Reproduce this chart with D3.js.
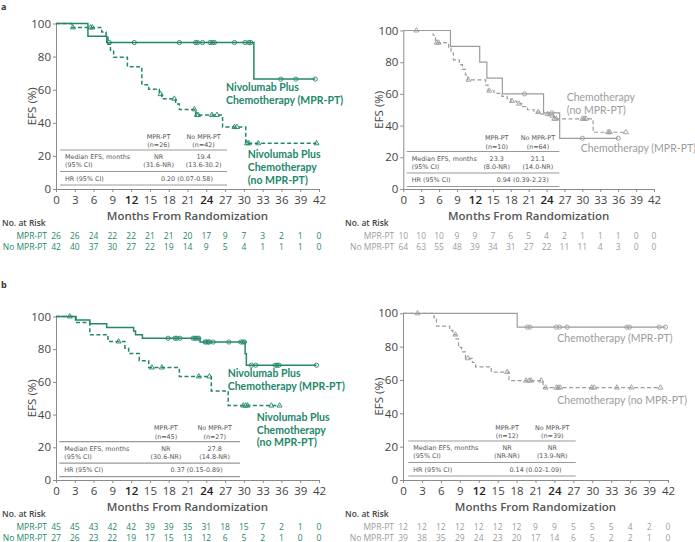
<!DOCTYPE html>
<html><head><meta charset="utf-8">
<script src="https://cdn.jsdelivr.net/npm/d3@7"></script>
<style>
body{margin:0;background:#fff;}
svg text{font-family:"Open Sans",Lato,sans-serif;}
</style></head><body>
<svg id="chart" width="695" height="542"></svg>
<script>
// ---- data ----
var monthTicks = [0,3,6,9,12,15,18,21,24,27,30,33,36,39,42];
var efsTicks = [0,20,40,60,80,100];

// a: nivolumab + chemotherapy
var aNivoMprSteps = [[0,100],[5.1,92.3],[8.1,88.5],[31.6,66.4]];
var aNivoMprCensor = [8.5,12.5,19.7,22.3,22.6,23.4,24.6,25.0,25.3,28.5,30.2,30.8,31.1,35.9,38.3,41.4];
var aNivoNoSteps = [[0,100],[2.5,97.6],[7.3,94.9],[8.0,91.7],[8.3,87.5],[8.7,83.8],[9.2,79.6],[11.4,73.8],[13.7,63.0],[14.8,60.3],[16.5,57.3],[16.9,54.5],[19.1,51.3],[19.7,48.1],[22.3,44.7],[26.6,37.4],[30.3,27.6]];
var aNivoNoCensor = [2.7,5.5,5.8,16.7,18.9,22.1,22.5,22.7,24.9,25.7,28.5,28.9,30.5,30.8,32.3,41.6];
// a: chemotherapy
var aChemoMprSteps = [[0,100],[7.9,90],[12.8,80],[14.0,70],[16.6,60],[23.5,48],[26.2,32]];
var aChemoMprCensor = [20.3,24.9,30.0,36.0];
var aChemoNoSteps = [[0,100],[5.0,97.0],[5.4,92.3],[7.6,89.0],[8.0,85.8],[8.4,81.5],[9.4,78.5],[9.9,75.5],[10.4,72.0],[10.8,68.9],[13.8,65.5],[14.2,62.0],[15.2,60.3],[16.5,58.5],[17.4,57.0],[18.0,55.5],[19.0,53.8],[19.9,52.0],[20.8,50.0],[21.9,48.5],[23.0,47.2],[24.4,46.2],[25.2,44.3],[31.8,35.8]];
var aChemoNoCensor = [2.2,5.6,5.9,10.9,14.4,18.2,19.4,22.6,24.2,25.0,25.3,25.6,30.0,30.3,30.6,34.3,34.6,37.3];
// b: nivolumab + chemotherapy
var bNivoMprSteps = [[0,100],[3.2,97.8],[5.4,95.6],[8.1,93.3],[12.4,91.1],[12.7,88.9],[13.8,86.7],[23.0,84.4],[30.2,77.2],[30.4,70.2]];
var bNivoMprCensor = [17.9,19.0,19.3,19.8,21.9,22.2,22.5,22.8,23.8,24.0,24.3,24.5,25.1,27.6,29.5,29.8,30.1,31.2,31.9,35.0,35.3,35.6,41.6];
var bNivoNoSteps = [[0,100],[3.1,96.3],[5.4,88.9],[8.3,84.7],[11.0,80.8],[11.6,77.3],[13.3,73.0],[14.8,68.8],[19.7,63.3],[24.8,54.5],[27.5,45.5]];
var bNivoNoCensor = [2.2,10.0,15.3,16.9,22.8,24.5,29.9,30.3,30.6,34.4,35.7];
// b: chemotherapy
var bChemoMprSteps = [[0,100],[18.1,91.7]];
var bChemoMprCensor = [19.7,20.1,24.3,24.8,26.0,35.5,35.9,40.6,41.6];
var bChemoNoSteps = [[0,100],[4.9,97.4],[5.3,92.3],[7.4,89.7],[7.9,87.2],[8.4,84.6],[8.8,79.5],[9.3,76.9],[9.9,73.0],[11.0,70.5],[11.5,67.9],[14.0,64.7],[16.8,59.6],[22.2,55.4]];
var bChemoNoCensor = [2.3,8.3,10.3,16.5,19.5,20.0,20.3,21.9,22.6,24.3,24.6,24.9,29.9,30.3,33.9,36.2,40.8];

// numbers at risk
var aNivoMprRisk = [26,26,24,22,22,21,21,20,17,9,7,3,2,1,0];
var aNivoNoRisk = [42,40,37,30,27,22,19,14,9,5,4,1,1,1,0];
var aChemoMprRisk = [10,10,10,9,9,7,6,5,4,2,1,1,1,0,0];
var aChemoNoRisk = [64,63,55,48,39,34,31,27,22,11,11,4,3,0,0];
var bNivoMprRisk = [45,45,43,42,42,39,39,35,31,18,15,7,2,1,0];
var bNivoNoRisk = [27,26,23,22,19,17,15,13,12,6,5,2,1,0,0];
var bChemoMprRisk = [12,12,12,12,12,12,12,9,9,5,5,5,4,2,0];
var bChemoNoRisk = [39,38,35,29,24,23,20,17,14,6,5,2,2,1,0];

// inset tables: n, n, median, median, CI, CI, HR
var aNivoTable = ["(n=26)","(n=42)","NR","19.4","(31.6-NR)","(13.6-30.2)","0.20 (0.07-0.58)"];
var aChemoTable = ["(n=10)","(n=64)","23.3","21.1","(8.0-NR)","(14.0-NR)","0.94 (0.39-2.23)"];
var bNivoTable = ["(n=45)","(n=27)","NR","27.8","(30.6-NR)","(14.8-NR)","0.37 (0.15-0.89)"];
var bChemoTable = ["(n=12)","(n=39)","NR","NR","(NR-NR)","(13.9-NR)","0.14 (0.02-1.09)"];

var nivoMprLabel = ["Nivolumab Plus","Chemotherapy (MPR-PT)"];
var nivoNoLabel = ["Nivolumab Plus","Chemotherapy","(no MPR-PT)"];
var chemoNoLabelA = ["Chemotherapy","(no MPR-PT)"];
var chemoMprLabel = ["Chemotherapy (MPR-PT)"];
var chemoNoLabelB = ["Chemotherapy (no MPR-PT)"];

var GREEN = "#23876b", GRAY = "#9c9c9c", AX = "#8a8a8a", TXT = "#444";

var panels = [
  {tag:"a", tagY:10, x0:56, x1:319, yTop:23.5, yBot:189, color:GREEN, bold:true,
   curves:[{steps:aNivoMprSteps,end:41.4,censor:aNivoMprCensor,dash:false},
           {steps:aNivoNoSteps,end:41.6,censor:aNivoNoCensor,dash:true}],
   table:{x1:60,x2:227,top:150,cells:aNivoTable},
   labels:[{x:226,y:86.7,lines:nivoMprLabel},{x:247.7,y:154,lines:nivoNoLabel}],
   risk:[aNivoMprRisk,aNivoNoRisk], riskX:2},
  {x0:403.3, x1:654, yTop:30.5, yBot:189, color:GRAY, bold:false,
   curves:[{steps:aChemoMprSteps,end:36.0,censor:aChemoMprCensor,dash:false},
           {steps:aChemoNoSteps,end:37.3,censor:aChemoNoCensor,dash:true}],
   table:{x1:406.7,x2:559.3,top:151.5,cells:aChemoTable},
   labels:[{x:566.7,y:96.7,lines:chemoNoLabelA},{x:580.7,y:148.3,lines:chemoMprLabel}],
   risk:[aChemoMprRisk,aChemoNoRisk], riskX:345},
  {tag:"b", tagY:288, x0:56, x1:319, yTop:316.5, yBot:480, color:GREEN, bold:true,
   curves:[{steps:bNivoMprSteps,end:41.6,censor:bNivoMprCensor,dash:false},
           {steps:bNivoNoSteps,end:35.7,censor:bNivoNoCensor,dash:true}],
   table:{x1:59.3,x2:240,top:441.7,cells:bNivoTable},
   labels:[{x:227.7,y:373.3,lines:nivoMprLabel},{x:256.7,y:416.7,lines:nivoNoLabel}],
   risk:[bNivoMprRisk,bNivoNoRisk], riskX:2},
  {x0:403, x1:668, yTop:313.3, yBot:480, color:GRAY, bold:false,
   curves:[{steps:bChemoMprSteps,end:41.6,censor:bChemoMprCensor,dash:false},
           {steps:bChemoNoSteps,end:40.8,censor:bChemoNoCensor,dash:true}],
   table:{x1:408.3,x2:575.7,top:441,cells:bChemoTable},
   labels:[{x:557.3,y:338.3,lines:chemoMprLabel},{x:557.3,y:400,lines:chemoNoLabelB}],
   risk:[bChemoMprRisk,bChemoNoRisk], riskX:345}
];

var svg = d3.select("#chart");

function survAt(steps, t) {
  var v = steps[0][1];
  steps.forEach(function (s) { if (s[0] <= t) v = s[1]; });
  return v;
}

panels.forEach(drawPanel);

function drawPanel(p) {
  var g = svg.append("g");
  var x = d3.scaleLinear().domain([0,42]).range([p.x0, p.x1]);
  var y = d3.scaleLinear().domain([0,100]).range([p.yBot, p.yTop]);

  if (p.tag) g.append("text").attr("x",1).attr("y",p.tagY).text(p.tag)
      .style("font-size","9px").style("font-weight","bold").attr("fill","#333");

  // axes
  var xa = g.append("g").attr("transform","translate(0,"+p.yBot+")")
    .call(d3.axisBottom(x).tickValues(monthTicks).tickSizeInner(3).tickSizeOuter(0).tickPadding(4));
  var ya = g.append("g").attr("transform","translate("+p.x0+",0)")
    .call(d3.axisLeft(y).tickValues(efsTicks).tickSizeInner(3).tickSizeOuter(0).tickPadding(2));
  [xa, ya].forEach(function (a) {
    a.select(".domain").attr("stroke",AX).attr("stroke-width",1);
    a.selectAll(".tick line").attr("stroke",AX);
    a.selectAll(".tick text").attr("fill",TXT).style("font-size","11.5px").style("font-family","Open Sans");
  });
  xa.selectAll(".tick text").filter(function (d) { return d == 12 || d == 24; })
    .style("font-weight","600").attr("fill","#222");

  g.append("text").attr("transform","translate("+(p.x0-25)+","+((p.yTop+p.yBot)/2)+") rotate(-90)")
    .attr("text-anchor","middle").attr("dominant-baseline","central")
    .style("font-size","11.5px").attr("fill",TXT).text("EFS (%)");
  g.append("text").attr("x",(p.x0+p.x1)/2).attr("y",p.yBot+26)
    .attr("text-anchor","middle").attr("dominant-baseline","central")
    .style("font-size","11.5px").style("font-weight","600").attr("fill","#555")
    .text("Months From Randomization");

  // inset table
  var t = p.table, w = t.x2 - t.x1;
  var tg = g.append("g").attr("fill","#555").style("font-size","6.4px").style("font-family","DejaVu Sans");
  [t.top, t.top+21.5, t.top+35].forEach(function (ly) {
    tg.append("line").attr("x1",t.x1).attr("x2",t.x2).attr("y1",ly).attr("y2",ly)
      .attr("stroke","#999").attr("stroke-width",1.2);
  });
  var c1 = t.x1 + w*0.59, c2 = t.x1 + w*0.86;
  function cell(tx, ty, s, anchor) {
    tg.append("text").attr("x",tx).attr("y",ty).attr("text-anchor",anchor||"middle")
      .attr("dominant-baseline","central").style("font-family","DejaVu Sans").text(s);
  }
  cell(c1, t.top-13.3, "MPR-PT"); cell(c2, t.top-13.3, "No MPR-PT");
  cell(c1, t.top-5, t.cells[0]); cell(c2, t.top-5, t.cells[1]);
  cell(t.x1+5, t.top+7, "Median EFS, months", "start");
  cell(t.x1+5, t.top+15.2, "(95% CI)", "start");
  cell(c1, t.top+7, t.cells[2]); cell(c2, t.top+7, t.cells[3]);
  cell(c1, t.top+15.2, t.cells[4]); cell(c2, t.top+15.2, t.cells[5]);
  cell(t.x1+5, t.top+28.6, "HR (95% CI)", "start");
  cell(t.x1 + w*0.76, t.top+28.6, t.cells[6]);

  // curves
  var line = d3.line().x(function (d) { return x(d[0]); }).y(function (d) { return y(d[1]); })
    .curve(d3.curveStepAfter);
  p.curves.forEach(function (c) {
    var pts = c.steps.concat([[c.end, c.steps[c.steps.length-1][1]]]);
    g.append("path").datum(pts).attr("d",line).attr("fill","none")
      .attr("stroke",p.color).attr("stroke-width",p.bold ? 1.5 : 1.2)
      .attr("stroke-dasharray",c.dash ? "4,2.5" : null);
    var sym = d3.symbol().type(c.dash ? d3.symbolTriangle : d3.symbolCircle).size(c.dash ? 11 : 14);
    g.selectAll(null).data(c.censor).enter().append("path")
      .attr("d",sym)
      .attr("transform",function (d) { return "translate("+x(d)+","+y(survAt(c.steps,d))+")"; })
      .attr("fill","none").attr("stroke",p.color).attr("stroke-width",0.9);
  });

  // curve labels
  p.labels.forEach(function (l) {
    l.lines.forEach(function (s, i) {
      g.append("text").attr("x",l.x).attr("y",l.y + i*12.8).attr("dominant-baseline","central")
        .style("font-size","10.5px").style("font-family","Lato")
        .style("font-weight",p.bold ? "bold" : "normal")
        .attr("fill",p.color).text(s);
    });
  });

  // numbers at risk
  g.append("text").attr("x",p.riskX).attr("y",p.yBot+33).attr("dominant-baseline","central")
    .style("font-size","8.5px").style("font-weight","600").attr("fill","#444").text("No. at Risk");
  ["MPR-PT","No MPR-PT"].forEach(function (name, r) {
    var ry = p.yBot + 46.5 + r*10.5;
    g.append("text").attr("x",p.x0-9).attr("y",ry).attr("text-anchor","end")
      .attr("dominant-baseline","central").style("font-size","8.5px")
      .attr("fill",p.color).text(name);
    g.selectAll(null).data(p.risk[r]).enter().append("text")
      .attr("x",function (d, i) { return x(monthTicks[i]); }).attr("y",ry)
      .attr("text-anchor","middle").attr("dominant-baseline","central")
      .style("font-size","8.5px").attr("fill",p.color).text(function (d) { return d; });
  });
}
</script></body></html>
